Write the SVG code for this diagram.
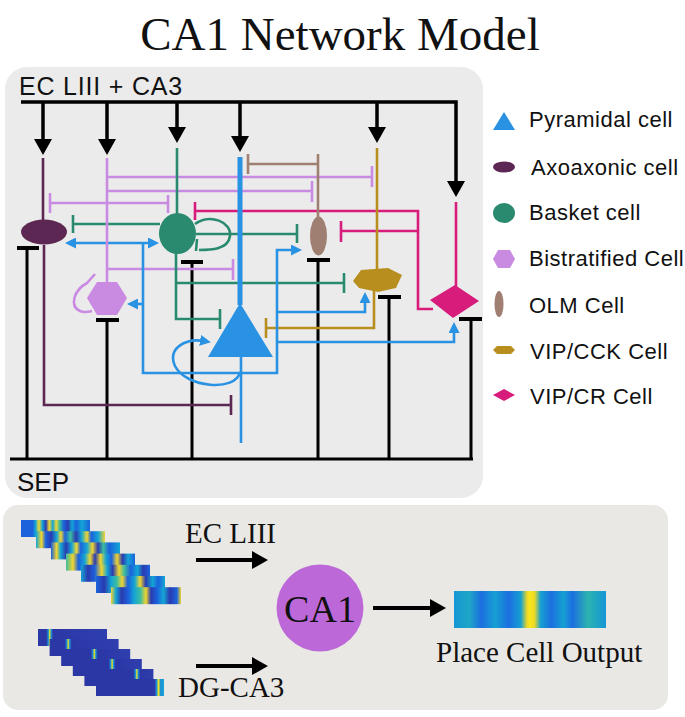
<svg xmlns="http://www.w3.org/2000/svg" width="685" height="717" viewBox="0 0 685 717">
<style>
.sans{font-family:"Liberation Sans",Arial,sans-serif;fill:#111}
.serif{font-family:"Liberation Serif","Times New Roman",serif;fill:#111}
.k{stroke:#000;stroke-width:3.5;fill:none}
.s{stroke:#000;stroke-width:3;fill:none}
.tb{stroke:#000;stroke-width:4}
.ax{stroke:#5c2752;stroke-width:2.6;fill:none}
.pu{stroke:#c98be2;stroke-width:2.6;fill:none}
.gr{stroke:#2a8a6f;stroke-width:2.6;fill:none}
.br{stroke:#9f7f71;stroke-width:2.6;fill:none}
.mg{stroke:#d81c7c;stroke-width:2.6;fill:none}
.bl{stroke:#2a92e2;stroke-width:2.6;fill:none}
.go{stroke:#b88f1f;stroke-width:2.6;fill:none}
.panel{fill:#ebebeb}
</style>
<defs>
<marker id="ak" markerUnits="userSpaceOnUse" viewBox="0 0 16 18" markerWidth="16" markerHeight="18" refX="6" refY="9" orient="auto"><path d="M0 0L16 9L0 18Z" fill="#000"/></marker>
<marker id="ab" markerUnits="userSpaceOnUse" viewBox="0 0 11 11" markerWidth="11" markerHeight="11" refX="4" refY="5.5" orient="auto-start-reverse"><path d="M0 0L11 5.5L0 11Z" fill="#2a92e2"/></marker>
<linearGradient id="u1"><stop offset="0" stop-color="#1b62dc"/><stop offset=".17" stop-color="#1b62dc"/><stop offset=".21" stop-color="#14a5d5"/><stop offset=".26" stop-color="#f0d530"/><stop offset=".31" stop-color="#14a5d5"/><stop offset=".36" stop-color="#2a3bb0"/><stop offset=".41" stop-color="#f0d530"/><stop offset=".46" stop-color="#14a5d5"/><stop offset=".51" stop-color="#f0d530"/><stop offset=".56" stop-color="#3cbca0"/><stop offset=".62" stop-color="#1b62dc"/><stop offset=".68" stop-color="#2a3bb0"/><stop offset=".74" stop-color="#14a5d5"/><stop offset=".8" stop-color="#1b62dc"/><stop offset=".88" stop-color="#14a5d5"/><stop offset="1" stop-color="#1b62dc"/></linearGradient>
<linearGradient id="u2"><stop offset="0" stop-color="#14a5d5"/><stop offset=".08" stop-color="#f0d530"/><stop offset=".14" stop-color="#1b62dc"/><stop offset=".22" stop-color="#2a3bb0"/><stop offset=".3" stop-color="#14a5d5"/><stop offset=".36" stop-color="#f0d530"/><stop offset=".42" stop-color="#1b62dc"/><stop offset=".5" stop-color="#3cbca0"/><stop offset=".58" stop-color="#2a3bb0"/><stop offset=".66" stop-color="#14a5d5"/><stop offset=".74" stop-color="#f0d530"/><stop offset=".8" stop-color="#1b62dc"/><stop offset=".9" stop-color="#14a5d5"/><stop offset="1" stop-color="#f0d530"/></linearGradient>
<linearGradient id="u3"><stop offset="0" stop-color="#1b62dc"/><stop offset=".08" stop-color="#f0d530"/><stop offset=".14" stop-color="#14a5d5"/><stop offset=".22" stop-color="#2a3bb0"/><stop offset=".3" stop-color="#14a5d5"/><stop offset=".37" stop-color="#f0d530"/><stop offset=".43" stop-color="#1b62dc"/><stop offset=".52" stop-color="#14a5d5"/><stop offset=".6" stop-color="#f0d530"/><stop offset=".68" stop-color="#2a3bb0"/><stop offset=".76" stop-color="#3cbca0"/><stop offset=".84" stop-color="#1b62dc"/><stop offset="1" stop-color="#14a5d5"/></linearGradient>
<linearGradient id="u4"><stop offset="0" stop-color="#3cbca0"/><stop offset=".1" stop-color="#f0d530"/><stop offset=".18" stop-color="#1b62dc"/><stop offset=".27" stop-color="#14a5d5"/><stop offset=".35" stop-color="#f0d530"/><stop offset=".42" stop-color="#2a3bb0"/><stop offset=".5" stop-color="#f0d530"/><stop offset=".58" stop-color="#14a5d5"/><stop offset=".66" stop-color="#1b62dc"/><stop offset=".74" stop-color="#f0d530"/><stop offset=".82" stop-color="#2a3bb0"/><stop offset=".9" stop-color="#14a5d5"/><stop offset="1" stop-color="#1b62dc"/></linearGradient>
<linearGradient id="u5"><stop offset="0" stop-color="#14a5d5"/><stop offset=".1" stop-color="#2a3bb0"/><stop offset=".2" stop-color="#1b62dc"/><stop offset=".3" stop-color="#f0d530"/><stop offset=".38" stop-color="#14a5d5"/><stop offset=".46" stop-color="#2a3bb0"/><stop offset=".55" stop-color="#f0d530"/><stop offset=".63" stop-color="#3cbca0"/><stop offset=".72" stop-color="#1b62dc"/><stop offset=".82" stop-color="#14a5d5"/><stop offset=".9" stop-color="#2a3bb0"/><stop offset="1" stop-color="#1b62dc"/></linearGradient>
<linearGradient id="u6"><stop offset="0" stop-color="#1b62dc"/><stop offset=".12" stop-color="#2a3bb0"/><stop offset=".22" stop-color="#14a5d5"/><stop offset=".3" stop-color="#3cbca0"/><stop offset=".38" stop-color="#f0d530"/><stop offset=".46" stop-color="#1b62dc"/><stop offset=".56" stop-color="#14a5d5"/><stop offset=".64" stop-color="#f0d530"/><stop offset=".72" stop-color="#2a3bb0"/><stop offset=".82" stop-color="#14a5d5"/><stop offset=".9" stop-color="#1b62dc"/><stop offset="1" stop-color="#14a5d5"/></linearGradient>
<linearGradient id="u7"><stop offset="0" stop-color="#f0d530"/><stop offset=".07" stop-color="#14a5d5"/><stop offset=".15" stop-color="#2a3bb0"/><stop offset=".25" stop-color="#1b62dc"/><stop offset=".33" stop-color="#14a5d5"/><stop offset=".42" stop-color="#3cbca0"/><stop offset=".5" stop-color="#f0d530"/><stop offset=".57" stop-color="#2a3bb0"/><stop offset=".66" stop-color="#1b62dc"/><stop offset=".75" stop-color="#14a5d5"/><stop offset=".84" stop-color="#2a3bb0"/><stop offset=".94" stop-color="#1b62dc"/><stop offset="1" stop-color="#f0d530"/></linearGradient>
<linearGradient id="d1"><stop offset="0" stop-color="#2c37a6"/><stop offset=".12" stop-color="#2c37a6"/><stop offset=".15" stop-color="#1890d8"/><stop offset=".17" stop-color="#f5e21e"/><stop offset=".19" stop-color="#1890d8"/><stop offset=".22" stop-color="#2c37a6"/><stop offset="1" stop-color="#2f3eae"/></linearGradient>
<linearGradient id="d2"><stop offset="0" stop-color="#2c37a6"/><stop offset=".22" stop-color="#2c37a6"/><stop offset=".25" stop-color="#1890d8"/><stop offset=".27" stop-color="#f5e21e"/><stop offset=".29" stop-color="#1890d8"/><stop offset=".32" stop-color="#2c37a6"/><stop offset="1" stop-color="#2f3eae"/></linearGradient>
<linearGradient id="d3"><stop offset="0" stop-color="#2c37a6"/><stop offset=".43" stop-color="#2c37a6"/><stop offset=".46" stop-color="#1890d8"/><stop offset=".48" stop-color="#f5e21e"/><stop offset=".5" stop-color="#1890d8"/><stop offset=".53" stop-color="#2c37a6"/><stop offset="1" stop-color="#2f3eae"/></linearGradient>
<linearGradient id="d4"><stop offset="0" stop-color="#2c37a6"/><stop offset=".52" stop-color="#2c37a6"/><stop offset=".55" stop-color="#1890d8"/><stop offset=".57" stop-color="#f5e21e"/><stop offset=".59" stop-color="#1890d8"/><stop offset=".62" stop-color="#2c37a6"/><stop offset="1" stop-color="#2f3eae"/></linearGradient>
<linearGradient id="d5"><stop offset="0" stop-color="#2c37a6"/><stop offset=".71" stop-color="#2c37a6"/><stop offset=".74" stop-color="#1890d8"/><stop offset=".76" stop-color="#f5e21e"/><stop offset=".78" stop-color="#1890d8"/><stop offset=".81" stop-color="#2c37a6"/><stop offset="1" stop-color="#2f3eae"/></linearGradient>
<linearGradient id="d6"><stop offset="0" stop-color="#2c37a6"/><stop offset=".86" stop-color="#2c37a6"/><stop offset=".89" stop-color="#1890d8"/><stop offset=".92" stop-color="#f5e21e"/><stop offset=".95" stop-color="#1890d8"/><stop offset="1" stop-color="#14a5d5"/></linearGradient>
<linearGradient id="out"><stop offset="0" stop-color="#1596d6"/><stop offset=".1" stop-color="#1ea6c6"/><stop offset=".18" stop-color="#1c6fe0"/><stop offset=".27" stop-color="#16a0d2"/><stop offset=".36" stop-color="#1c6fe0"/><stop offset=".44" stop-color="#16a0d2"/><stop offset=".48" stop-color="#e8d828"/><stop offset=".5" stop-color="#fae61a"/><stop offset=".53" stop-color="#e8d828"/><stop offset=".57" stop-color="#16a0d2"/><stop offset=".64" stop-color="#1c6fe0"/><stop offset=".72" stop-color="#16a0d2"/><stop offset=".78" stop-color="#1c6fe0"/><stop offset=".88" stop-color="#2cb3b0"/><stop offset="1" stop-color="#1596d6"/></linearGradient>
</defs>

<rect width="685" height="717" fill="#fff"/>
<text class="serif" x="340" y="50" font-size="47" text-anchor="middle">CA1 Network Model</text>

<rect class="panel" x="5" y="67" width="478" height="431" rx="22"/>
<text class="sans" x="19" y="95" font-size="25" letter-spacing="0.8">EC LIII + CA3</text>
<text class="sans" x="17" y="491" font-size="26">SEP</text>

<g id="connectors">
  <!-- input bus -->
  <path class="k" d="M21 102H456V187" marker-end="url(#ak)"/>
  <line class="k" x1="43" y1="102" x2="43" y2="145" marker-end="url(#ak)"/>
  <line class="k" x1="107" y1="102" x2="107" y2="145" marker-end="url(#ak)"/>
  <line class="k" x1="177" y1="102" x2="177" y2="133" marker-end="url(#ak)"/>
  <line class="k" x1="240" y1="102" x2="240" y2="142" marker-end="url(#ak)"/>
  <line class="k" x1="377" y1="102" x2="377" y2="133" marker-end="url(#ak)"/>
  <!-- SEP bus -->
  <path class="s" d="M10 459H473M27 248V459M107 320V459M192 262V459M318 260V459M389 297V459M471 319V459"/>
  <path class="tb" d="M17 248H39M96 320H119M181 262H203M307 260H330M378 297H401M459 319H482"/>
  <!-- bistratified -->
  <path class="pu" d="M107 177H372M372 166V187M107 191H312M312 181V202M50 203H168M50 193V213M168 195V213M107 269H233M233 259V280"/>
  <path class="pu" d="M95 274L87 283C74 290 69 306 80 311C84 313 88 312 92 311"/>
  <!-- basket -->
  <path class="gr" d="M160 224H73M73 215V233M196 234H297M297 224V243M176 253V319H220M220 309V329M176 283H344M344 273V293"/>
  <path class="gr" d="M195 224C210 213 232 222 230 236C228 250 210 250 199 250M197 239L196 251"/>
  <!-- OLM -->
  <path class="br" d="M318 164H248M248 154V174"/>
  <!-- VIP/CR -->
  <path class="mg" d="M195 211H418V309H433M195 202V220M341 231H418M341 221V242"/>
  <!-- axoaxonic -->
  <path class="ax" d="M44 245V405H231M231 395V415"/>
  <!-- VIP/CCK -->
  <path class="go" d="M374 291V328H266M266 318V338"/>
  <!-- pyramidal -->
  <line class="bl" x1="72" y1="243" x2="152" y2="243" marker-start="url(#ab)" marker-end="url(#ab)"/>
  <path class="bl" d="M143 243V373H277V250H295" marker-end="url(#ab)"/>
  <line class="bl" x1="143" y1="304" x2="134" y2="304" marker-end="url(#ab)"/>
  <path class="bl" d="M277 312H365V299" marker-end="url(#ab)"/>
  <path class="bl" d="M277 342H454V329" marker-end="url(#ab)"/>
  <path class="bl" d="M240 372C236 392 186 388 175 366C167 348 186 338 204 341" marker-end="url(#ab)"/>
  <line class="bl" x1="241" y1="357" x2="241" y2="443"/>
</g>

<g id="axoaxonic">
  <line class="ax" x1="43" y1="158" x2="43" y2="222"/>
  <ellipse cx="44" cy="232" rx="23" ry="12.5" fill="#5c2752"/>
</g>
<g id="bistratified">
  <line class="pu" x1="107" y1="158" x2="107" y2="283"/>
  <polygon points="97,282 117,282 127,298 117,315 97,315 87,298" fill="#c98be2"/>
</g>
<g id="basket">
  <line class="gr" x1="177" y1="148" x2="177" y2="214"/>
  <ellipse cx="177.5" cy="233.5" rx="18.5" ry="20.5" fill="#2a8a6f"/>
</g>
<g id="pyramidal">
  <line x1="240" y1="157" x2="240" y2="305" stroke="#2a92e2" stroke-width="5"/>
  <polygon points="240,303 273,357 208,357" fill="#2a92e2"/>
</g>
<g id="olm">
  <line class="br" x1="318" y1="154" x2="318" y2="217"/>
  <ellipse cx="318.5" cy="236" rx="8.5" ry="19.5" fill="#9f7f71"/>
</g>
<g id="vipcck">
  <line class="go" x1="377" y1="148" x2="377" y2="270"/>
  <polygon points="353,281 361,270 388,268 402,275 396,288 378,292 359,288" fill="#b88f1f"/>
</g>
<g id="vipcr">
  <line class="mg" x1="456" y1="202" x2="456" y2="287"/>
  <polygon points="430,300 455,285 479,301 453,318" fill="#d81c7c"/>
</g>

<g id="legend" class="sans" font-size="22" letter-spacing="0.5">
  <polygon points="493,130 504,112 515,130" fill="#2a92e2"/>
  <text x="529" y="127">Pyramidal cell</text>
  <ellipse cx="504" cy="167" rx="11" ry="5.5" fill="#5c2752"/>
  <text x="531" y="175">Axoaxonic cell</text>
  <ellipse cx="504" cy="213" rx="11" ry="10" fill="#2a8a6f"/>
  <text x="529" y="220">Basket cell</text>
  <polygon points="498,250 510,250 515,259 510,268 498,268 493,259" fill="#c98be2"/>
  <text x="529" y="266">Bistratified Cell</text>
  <ellipse cx="499" cy="304" rx="4.5" ry="13" fill="#9f7f71"/>
  <text x="529" y="313">OLM Cell</text>
  <polygon points="493,350 497,346 511,346 515,350 511,354 497,354" fill="#b88f1f"/>
  <text x="530" y="359">VIP/CCK Cell</text>
  <polygon points="493,395 504,389 515,395 504,401" fill="#d81c7c"/>
  <text x="530" y="404">VIP/CR Cell</text>
</g>

<rect x="3" y="505" width="665" height="205" rx="15" fill="#e9e8e5"/>
<g id="ec-inputs">
  <rect x="21" y="520" width="69" height="17" fill="url(#u1)"/>
  <rect x="36" y="531.2" width="69" height="17" fill="url(#u2)"/>
  <rect x="51" y="542.4" width="69" height="17" fill="url(#u3)"/>
  <rect x="66" y="553.6" width="69" height="17" fill="url(#u4)"/>
  <rect x="81" y="564.8" width="69" height="17" fill="url(#u5)"/>
  <rect x="96" y="576" width="69" height="17" fill="url(#u6)"/>
  <rect x="111" y="587.2" width="70" height="17" fill="url(#u7)"/>
</g>
<g id="dg-inputs">
  <rect x="38" y="629" width="69" height="17" fill="url(#d1)"/>
  <rect x="49.6" y="639" width="69" height="17" fill="url(#d2)"/>
  <rect x="61.2" y="649" width="69" height="17" fill="url(#d3)"/>
  <rect x="72.8" y="659" width="69" height="17" fill="url(#d4)"/>
  <rect x="84.4" y="669" width="69" height="17" fill="url(#d5)"/>
  <rect x="96" y="679" width="68" height="17" fill="url(#d6)"/>
</g>
<g id="bottom-arrows">
  <line x1="196" y1="560" x2="258" y2="560" stroke="#000" stroke-width="4" marker-end="url(#ak)"/>
  <line x1="196" y1="666" x2="258" y2="666" stroke="#000" stroke-width="4" marker-end="url(#ak)"/>
  <line x1="373" y1="608" x2="436" y2="608" stroke="#000" stroke-width="4" marker-end="url(#ak)"/>
</g>
<text class="serif" x="185" y="543" font-size="29">EC LIII</text>
<text class="serif" x="178" y="697" font-size="29">DG-CA3</text>
<g id="ca1">
  <circle cx="320" cy="608" r="43.5" fill="#bd68d9"/>
  <text class="serif" x="320" y="622" font-size="38" text-anchor="middle">CA1</text>
</g>
<g id="output">
  <rect x="454" y="591" width="152" height="37" fill="url(#out)"/>
  <text class="serif" x="436" y="662" font-size="29">Place Cell Output</text>
</g>
</svg>
